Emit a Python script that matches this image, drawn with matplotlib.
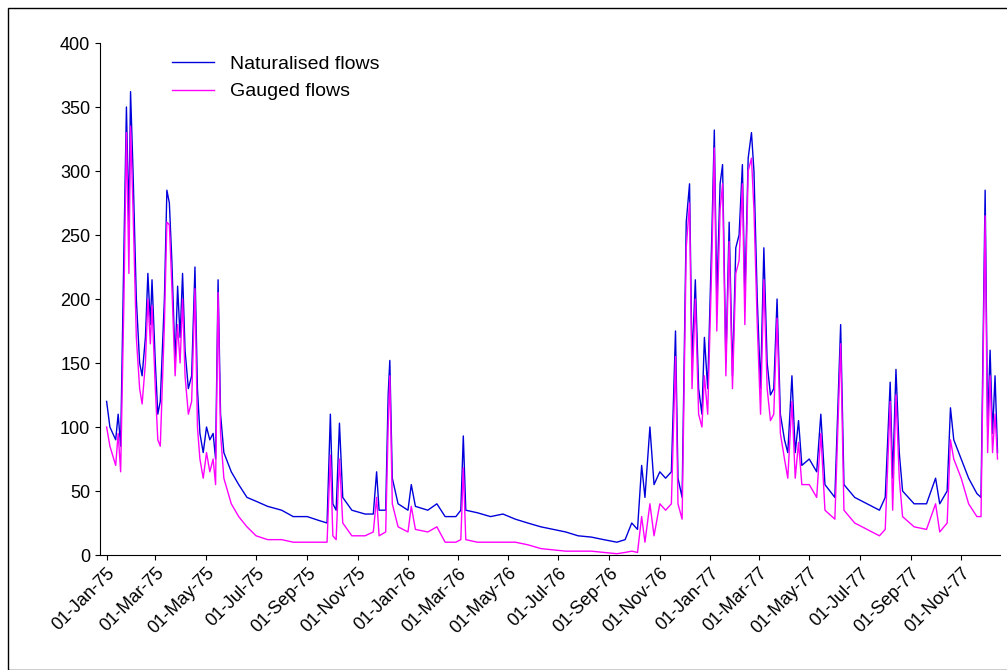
import numpy as np
import pandas as pd
import matplotlib
matplotlib.use("Agg")
import matplotlib.pyplot as plt
import matplotlib.dates as mdates
from matplotlib.patches import Rectangle

plt.rcParams['font.family'] = ['Liberation Sans', 'DejaVu Sans']

# readings: date, naturalised, gauged
rows = """
1975-01-01 120 100
1975-01-05 100 85
1975-01-12 90 70
1975-01-15 110 95
1975-01-18 85 65
1975-01-22 240 200
1975-01-25 350 330
1975-01-28 260 220
1975-01-30 362 335
1975-02-02 300 270
1975-02-06 200 170
1975-02-10 150 130
1975-02-13 140 118
1975-02-17 170 150
1975-02-20 220 200
1975-02-23 180 165
1975-02-25 215 195
1975-03-01 150 130
1975-03-04 110 90
1975-03-07 120 85
1975-03-12 200 180
1975-03-15 285 260
1975-03-18 275 258
1975-03-21 230 210
1975-03-25 150 140
1975-03-28 210 180
1975-03-31 170 150
1975-04-03 220 200
1975-04-06 160 140
1975-04-10 130 110
1975-04-14 140 120
1975-04-18 225 208
1975-04-21 130 100
1975-04-24 95 75
1975-04-28 80 60
1975-05-02 100 80
1975-05-06 90 65
1975-05-10 95 75
1975-05-13 75 55
1975-05-16 215 205
1975-05-19 110 95
1975-05-23 80 60
1975-06-01 65 40
1975-06-10 55 30
1975-06-20 45 22
1975-07-01 42 15
1975-07-15 38 12
1975-08-01 35 12
1975-08-15 30 10
1975-09-01 30 10
1975-09-15 27 10
1975-09-25 25 10
1975-09-29 110 78
1975-10-02 40 15
1975-10-06 35 12
1975-10-10 103 75
1975-10-14 45 25
1975-10-25 35 15
1975-11-10 32 15
1975-11-20 32 18
1975-11-24 65 45
1975-11-27 35 15
1975-12-05 35 18
1975-12-08 125 100
1975-12-10 152 140
1975-12-13 60 40
1975-12-20 40 22
1976-01-01 35 18
1976-01-05 55 38
1976-01-10 38 20
1976-01-25 35 18
1976-02-05 40 22
1976-02-15 30 10
1976-02-28 30 10
1976-03-05 35 12
1976-03-08 93 68
1976-03-11 35 12
1976-03-25 33 10
1976-04-10 30 10
1976-04-25 32 10
1976-05-10 28 10
1976-05-25 25 8
1976-06-10 22 5
1976-06-25 20 4
1976-07-10 18 3
1976-07-25 15 3
1976-08-10 14 3
1976-08-25 12 2
1976-09-10 10 1
1976-09-20 12 2
1976-09-28 25 3
1976-10-05 20 2
1976-10-10 70 30
1976-10-14 45 10
1976-10-20 100 40
1976-10-25 55 15
1976-11-01 65 40
1976-11-08 60 35
1976-11-15 65 40
1976-11-20 175 155
1976-11-23 60 40
1976-11-28 45 28
1976-12-03 260 240
1976-12-07 290 275
1976-12-10 150 130
1976-12-14 215 200
1976-12-18 130 110
1976-12-22 110 100
1976-12-25 170 140
1976-12-29 130 110
1977-01-03 250 230
1977-01-06 332 318
1977-01-09 200 175
1977-01-13 290 270
1977-01-16 305 290
1977-01-20 150 140
1977-01-24 260 245
1977-01-28 140 130
1977-02-01 240 220
1977-02-05 250 230
1977-02-09 305 290
1977-02-12 200 180
1977-02-16 310 300
1977-02-20 330 310
1977-02-23 300 270
1977-02-27 200 180
1977-03-03 130 110
1977-03-07 240 215
1977-03-11 150 130
1977-03-15 125 105
1977-03-19 130 110
1977-03-23 200 185
1977-03-27 110 95
1977-04-01 90 75
1977-04-05 80 60
1977-04-10 140 120
1977-04-14 80 60
1977-04-18 105 88
1977-04-22 70 55
1977-05-01 75 55
1977-05-10 65 45
1977-05-15 110 95
1977-05-20 55 35
1977-06-01 45 28
1977-06-08 180 165
1977-06-12 55 35
1977-06-25 45 25
1977-07-10 40 20
1977-07-25 35 15
1977-08-01 45 20
1977-08-07 135 120
1977-08-10 60 35
1977-08-14 145 125
1977-08-18 80 60
1977-08-22 50 30
1977-09-05 40 22
1977-09-20 40 20
1977-10-01 60 40
1977-10-06 40 18
1977-10-15 50 25
1977-10-19 115 90
1977-10-23 90 75
1977-11-01 75 60
1977-11-10 60 40
1977-11-20 48 30
1977-11-25 45 30
1977-11-30 285 265
1977-12-03 100 80
1977-12-06 160 140
1977-12-09 95 80
1977-12-12 140 110
1977-12-15 80 75
"""
parts = [r.split() for r in rows.strip().splitlines()]
dates = pd.to_datetime([p[0] for p in parts])
naturalised = [float(p[1]) for p in parts]
gauged = [float(p[2]) for p in parts]

fig = plt.figure(figsize=(10.07, 6.70), dpi=100)
ax = fig.add_axes([100/1007, 115/670, 900/1007, 512/670])

ax.plot(dates, naturalised, color='#0000dd', lw=1.0, label='Naturalised flows')
ax.plot(dates, gauged, color='#ff00ff', lw=1.0, label='Gauged flows')

ax.set_ylim(0, 400)
ax.set_yticks(range(0, 401, 50))
ax.set_xlim(pd.Timestamp('1974-12-24'), pd.Timestamp('1977-12-18'))
ax.xaxis.set_major_locator(mdates.MonthLocator(bymonth=[1, 3, 5, 7, 9, 11]))
ax.xaxis.set_major_formatter(mdates.DateFormatter('%d-%b-%y'))
plt.setp(ax.get_xticklabels(), rotation=45, ha='right', rotation_mode='anchor')
ax.tick_params(labelsize=13, direction='out')
ax.spines['top'].set_visible(False)
ax.spines['right'].set_visible(False)

ax.legend(loc='upper left', bbox_to_anchor=(0.06, 1.01), frameon=False,
          fontsize=14, handlelength=2.2)

fig.patches.append(Rectangle((8/1007, 0), 1, 1 - 8/670, transform=fig.transFigure,
                             fill=False, edgecolor='black', lw=1))

fig.savefig('out.png', dpi=100)
